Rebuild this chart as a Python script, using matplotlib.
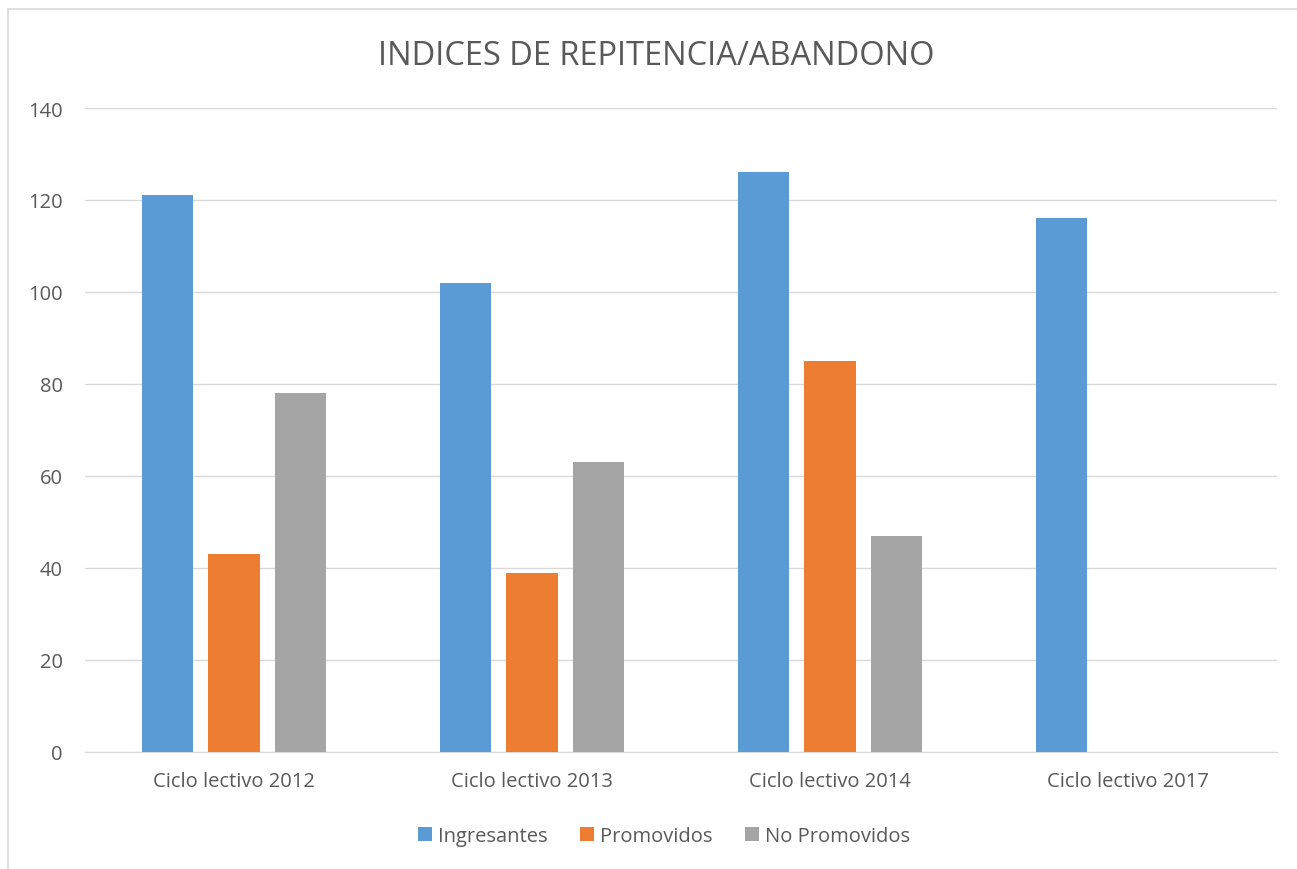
import numpy as np
import matplotlib.pyplot as plt
from matplotlib.lines import Line2D

categories = ['Ciclo lectivo 2012', 'Ciclo lectivo 2013', 'Ciclo lectivo 2014', 'Ciclo lectivo 2017']
ingresantes = [121, 102, 126, 116]
promovidos = [43, 39, 85, 0]
no_promovidos = [78, 63, 47, 0]
series_names = ['Ingresantes', 'Promovidos', 'No Promovidos']
colors = ['#5b9bd5', '#ed7d31', '#a5a5a5']

plt.rcParams['font.family'] = ['Open Sans', 'DejaVu Sans']

fig = plt.figure(figsize=(12.97, 8.7), dpi=100)
ax = fig.add_axes([85 / 1297, 117 / 870, 1192 / 1297, 644 / 870])

x = np.arange(len(categories))
width = 0.172
step = 0.222
for i, (vals, name, c) in enumerate(zip([ingresantes, promovidos, no_promovidos], series_names, colors)):
    ax.bar(x + (i - 1) * step, vals, width, color=c, label=name, zorder=3)

ax.set_xlim(-0.5, len(categories) - 0.5)
ax.set_ylim(0, 140)
ax.set_yticks(range(0, 141, 20))
ax.set_xticks(x)
ax.set_xticklabels(categories)
ax.grid(axis='y', color='#d9d9d9', linewidth=1, zorder=0)
for s in ['top', 'right', 'left']:
    ax.spines[s].set_visible(False)
ax.spines['bottom'].set_color('#d9d9d9')
ax.tick_params(axis='both', length=0, colors='#595959', labelsize=14.5)
ax.tick_params(axis='x', pad=14)
ax.tick_params(axis='y', pad=16)

fig.text(0.506, 0.935, 'INDICES DE REPITENCIA/ABANDONO', ha='center', va='center',
         fontsize=23.5, color='#595959')

leg = fig.legend(loc='center', bbox_to_anchor=(0.512, 0.038), ncol=3, frameon=False,
                 fontsize=14.5, handlelength=0.7, handleheight=0.7, handletextpad=0.3,
                 columnspacing=1.6, labelcolor='#595959')

# chart border (only top and left visible in the crop)
fig.add_artist(Line2D([8 / 1297, 8 / 1297], [0, 1 - 10 / 870], transform=fig.transFigure,
                      color='#d9d9d9', linewidth=1.2))
fig.add_artist(Line2D([8 / 1297, 1], [1 - 10 / 870, 1 - 10 / 870], transform=fig.transFigure,
                      color='#d9d9d9', linewidth=1.2))

fig.savefig('out.png', dpi=100)
